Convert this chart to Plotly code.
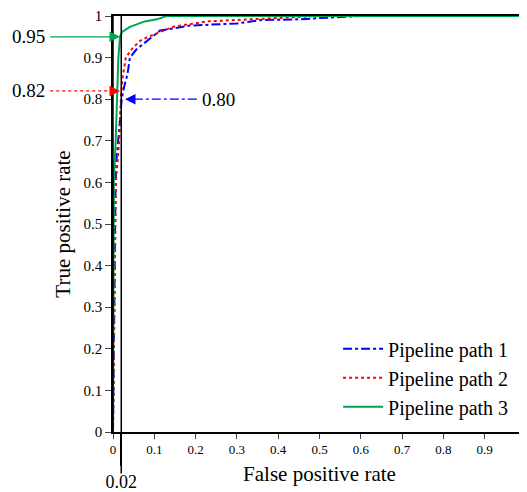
import plotly.graph_objects as go

# ROC data
fpr_path1 = [0, 0.002, 0.004, 0.006, 0.008, 0.013, 0.017, 0.021, 0.027, 0.035, 0.041, 0.057, 0.082, 0.114, 0.186, 0.30, 0.356, 0.45, 0.5, 0.6, 1.0]
tpr_path1 = [0, 0.20, 0.45, 0.58, 0.65, 0.70, 0.75, 0.80, 0.83, 0.86, 0.90, 0.92, 0.94, 0.965, 0.977, 0.982, 0.99, 0.992, 0.995, 1.0, 1.0]

fpr_path2 = [0, 0.002, 0.003, 0.004, 0.0057, 0.007, 0.011, 0.015, 0.017, 0.019, 0.023, 0.031, 0.045, 0.065, 0.085, 0.146, 0.227, 0.30, 0.40, 0.5, 1.0]
tpr_path2 = [0, 0.15, 0.30, 0.42, 0.50, 0.60, 0.65, 0.70, 0.75, 0.80, 0.85, 0.90, 0.92, 0.94, 0.95, 0.974, 0.987, 0.99, 0.995, 1.0, 1.0]

fpr_path3 = [0, 0.001, 0.002, 0.0065, 0.009, 0.010, 0.013, 0.017, 0.022, 0.041, 0.065, 0.077, 0.106, 0.13, 0.2, 1.0]
tpr_path3 = [0, 0.30, 0.60, 0.70, 0.80, 0.85, 0.90, 0.95, 0.962, 0.974, 0.982, 0.987, 0.992, 1.0, 1.0, 1.0]

series_names = ["Pipeline path 1", "Pipeline path 2", "Pipeline path 3"]
series_colors = ["#0000ff", "#ff0000", "#00a550"]
series_dash = ["dashdot", "dot", "solid"]

x_ticks = [0, 0.1, 0.2, 0.3, 0.4, 0.5, 0.6, 0.7, 0.8, 0.9, 1]
y_ticks = [0, 0.1, 0.2, 0.3, 0.4, 0.5, 0.6, 0.7, 0.8, 0.9, 1]

threshold_fpr = 0.02
threshold_label = "0.02"
marked_tpr = {"path3": 0.95, "path2": 0.82, "path1": 0.80}

FONT = "Liberation Serif"

fig = go.Figure()
for fx, ty, name, col, dash in zip(
    [fpr_path1, fpr_path2, fpr_path3],
    [tpr_path1, tpr_path2, tpr_path3],
    series_names, series_colors, series_dash,
):
    fig.add_trace(go.Scatter(x=fx, y=ty, mode="lines", name=name,
                             line=dict(color=col, width=2, dash=dash)))

# invisible trace that anchors the secondary x axis used for the 0.02 marker tick
fig.add_trace(go.Scatter(x=[threshold_fpr], y=[marked_tpr["path1"]], xaxis="x2",
                         mode="markers", marker=dict(opacity=0), showlegend=False,
                         hoverinfo="skip"))

# vertical line at FPR 0.02, extending below the axis
fig.add_shape(type="line", xref="paper", yref="paper",
              x0=threshold_fpr, x1=threshold_fpr, y0=-0.1, y1=1,
              line=dict(color="black", width=1.5))
# vertical line at x=0
fig.add_shape(type="line", xref="paper", yref="paper",
              x0=0, x1=0, y0=0, y1=1, line=dict(color="black", width=1.5))

# arrow lines (dashed) as shapes; arrowheads as annotations
arrow_specs = [
    # (tail x, head x, y, color, dash, label, label_x, label_anchor)
    (-0.152, 0.0, marked_tpr["path3"], series_colors[2], "solid", "0.95", -0.16, "right"),
    (-0.152, 0.0, marked_tpr["path2"], series_colors[1], "dot", "0.82", -0.16, "right"),
    (0.203, 0.05, marked_tpr["path1"], series_colors[0], "dashdot", "0.80", 0.21, "left"),
]
for tx, hx, yv, col, dash, lab, lx, anc in arrow_specs:
    fig.add_shape(type="line", xref="paper", yref="paper",
                  x0=tx, x1=hx, y0=yv, y1=yv,
                  line=dict(color=col, width=1.2, dash=dash))
    direction = 1 if hx > tx else -1
    head_x = 0.017 if direction > 0 else 0.029
    fig.add_annotation(xref="paper", yref="paper", x=head_x, y=yv,
                       ax=-10 * direction, ay=0, text="", showarrow=True,
                       arrowhead=2, arrowsize=1.4, arrowwidth=1.5, arrowcolor=col)
    fig.add_annotation(xref="paper", yref="paper", x=lx, y=yv, text=lab,
                       showarrow=False, xanchor=anc, yanchor="middle",
                       font=dict(family=FONT, size=19, color="black"))

# the page adds an 8px body margin at top/left, so the figure is sized 8px smaller
fig.update_layout(
    width=519, height=484,
    margin=dict(l=105, r=1, t=8, b=60),
    paper_bgcolor="white", plot_bgcolor="white",
    font=dict(family=FONT, size=13, color="black"),
    showlegend=True,
    legend=dict(x=0.545, y=0.247, xanchor="left", yanchor="top",
                bgcolor="rgba(0,0,0,0)", font=dict(family=FONT, size=20),
                tracegroupgap=0, itemwidth=40),
    xaxis2=dict(overlaying="x", side="bottom", anchor="y", range=[0, 1],
                tickvals=[threshold_fpr], ticktext=[threshold_label],
                ticks="outside", ticklen=33, tickwidth=1.5, tickcolor="black",
                showline=False, showgrid=False, zeroline=False, automargin=False,
                tickfont=dict(family=FONT, size=18, color="black")),
    xaxis=dict(range=[0, 1], tickvals=x_ticks, ticks="outside", ticklen=5,
               showline=True, linecolor="black", linewidth=1.5, mirror=True,
               showgrid=False, zeroline=False, automargin=False,
               title=dict(text="False positive rate", font=dict(family=FONT, size=21), standoff=10),
               tickfont=dict(family=FONT, size=13)),
)
fig.update_yaxes(range=[0, 1], tickvals=y_ticks, ticks="outside", ticklen=6,
                 showline=True, linecolor="black", linewidth=1.5, mirror=True,
                 showgrid=False, zeroline=False, automargin=False,
                 title=dict(text="True positive rate", font=dict(family=FONT, size=21), standoff=7),
                 tickfont=dict(family=FONT, size=15))

fig.write_html("out.html")
